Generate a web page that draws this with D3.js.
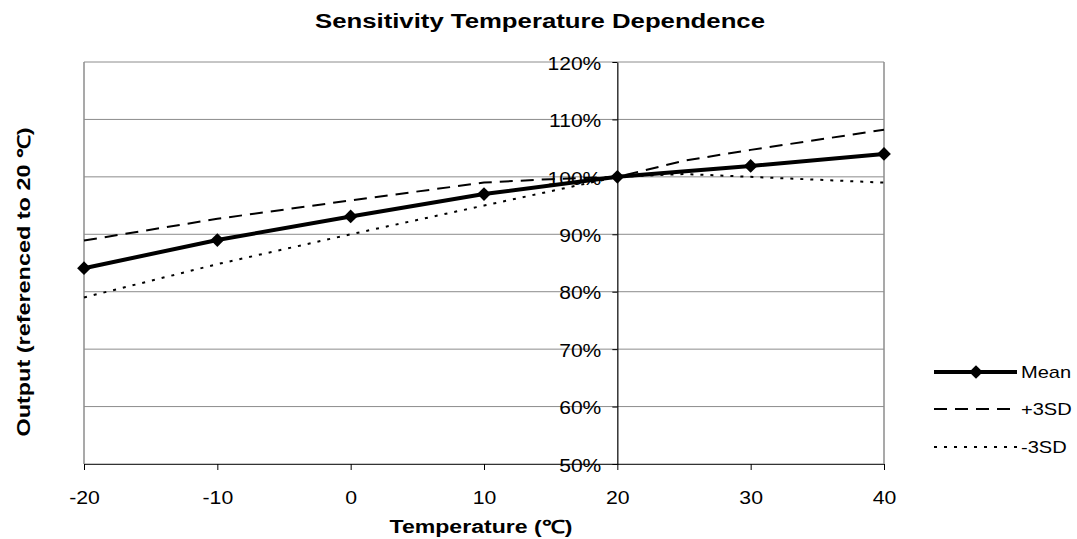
<!DOCTYPE html>
<html>
<head>
<meta charset="utf-8">
<script src="https://cdn.jsdelivr.net/npm/d3@7"></script>
<style>
  body { margin: 0; background: #fff; }
  svg { display: block; font-family: "Liberation Sans", Arial, sans-serif; }
</style>
</head>
<body>
<svg id="chart" width="1077" height="539"></svg>
<script>
// data
const meanTemps = [-20, -10, 0, 10, 20, 30, 40];
const meanVals = [84.1, 89.0, 93.1, 97.0, 100, 101.9, 104.0];
const plusTemps = [-20, -10, 0, 10, 15, 20, 25, 30, 40];
const plusVals = [88.9, 92.7, 95.9, 99.0, 99.6, 100, 102.8, 104.7, 108.2];
const minusTemps = [-20, -10, 0, 10, 20, 25, 30, 40];
const minusVals = [79.0, 84.8, 90.0, 95.0, 100, 100.5, 100.0, 99.0];
const xTicks = [-20, -10, 0, 10, 20, 30, 40];
const yTicks = [50, 60, 70, 80, 90, 100, 110, 120];
const seriesNames = ['Mean', '+3SD', '-3SD'];

const svg = d3.select('#chart');
const plotLeft = 84, plotRight = 884, plotTop = 62, plotBottom = 464;
const fontFamily = '"Liberation Sans", Arial, sans-serif';

const x = d3.scaleLinear().domain([-20, 40]).range([plotLeft, plotRight]);
const y = d3.scaleLinear().domain([50, 120]).range([plotBottom, plotTop]);

// stretch text horizontally, the reference font renders wide
function stretch(sel, k) {
    sel.each(function() {
        let w = this.getComputedTextLength();
        d3.select(this).attr('textLength', w * k).attr('lengthAdjust', 'spacingAndGlyphs');
    });
}

// Gridlines
svg.append('g')
    .selectAll('line')
    .data(yTicks)
    .join('line')
    .attr('x1', plotLeft).attr('x2', plotRight)
    .attr('y1', d => y(d)).attr('y2', d => y(d))
    .attr('stroke', '#8c8c8c')
    .attr('stroke-width', 1);

// plot border sides
svg.append('line').attr('x1', plotLeft).attr('x2', plotLeft).attr('y1', plotTop).attr('y2', plotBottom)
    .attr('stroke', '#8c8c8c').attr('stroke-width', 1.5);
svg.append('line').attr('x1', plotRight).attr('x2', plotRight).attr('y1', plotTop).attr('y2', plotBottom)
    .attr('stroke', '#8c8c8c').attr('stroke-width', 1.5);

// x axis at bottom
const xAxis = svg.append('g')
    .attr('transform', 'translate(0,' + plotBottom + ')')
    .call(d3.axisBottom(x).tickValues(xTicks).tickSize(6).tickSizeOuter(0).tickFormat(d => String(d)));
xAxis.select('.domain').attr('stroke', '#333').attr('stroke-width', 1.2);
xAxis.selectAll('.tick line').attr('stroke', '#000');
xAxis.selectAll('.tick text')
    .attr('y', 40)
    .attr('dy', 0)
    .attr('font-size', 18)
    .attr('font-family', fontFamily)
    .attr('fill', '#000')
    .call(stretch, 1.18);

// y axis crossing at 20
const yAxis = svg.append('g')
    .attr('transform', 'translate(' + x(20) + ',0)')
    .call(d3.axisLeft(y).tickValues(yTicks).tickSize(5).tickSizeOuter(0).tickFormat(d => d + '%'));
yAxis.select('.domain').attr('stroke', '#000').attr('stroke-width', 1.2);
yAxis.selectAll('.tick line').attr('stroke', '#000');
yAxis.selectAll('.tick text')
    .attr('x', -16)
    .attr('dy', '0.4em')
    .attr('font-size', 18)
    .attr('font-family', fontFamily)
    .attr('fill', '#000')
    .call(stretch, 1.17);

// Series
const line = d3.line().x(d => x(d[0])).y(d => y(d[1]));

svg.append('path')
    .datum(d3.zip(plusTemps, plusVals))
    .attr('d', line)
    .attr('fill', 'none')
    .attr('stroke', '#000')
    .attr('stroke-width', 2)
    .attr('stroke-dasharray', '13,8');

svg.append('path')
    .datum(d3.zip(minusTemps, minusVals))
    .attr('d', line)
    .attr('fill', 'none')
    .attr('stroke', '#000')
    .attr('stroke-width', 2)
    .attr('stroke-dasharray', '3,7');

svg.append('path')
    .datum(d3.zip(meanTemps, meanVals))
    .attr('d', line)
    .attr('fill', 'none')
    .attr('stroke', '#000')
    .attr('stroke-width', 4);

const diamond = d3.symbol().type(d3.symbolDiamond2).size(120);
svg.append('g')
    .selectAll('path')
    .data(d3.zip(meanTemps, meanVals))
    .join('path')
    .attr('d', diamond)
    .attr('transform', d => 'translate(' + x(d[0]) + ',' + y(d[1]) + ')')
    .attr('fill', '#000');

// Legend
const legend = svg.append('g');
const legendY = [372, 409, 447];
const legendDash = [null, '13,8', '3,7'];
const legendWidth = [4, 2, 2];
seriesNames.forEach((name, i) => {
    legend.append('line')
        .attr('x1', 934).attr('x2', 1017)
        .attr('y1', legendY[i]).attr('y2', legendY[i])
        .attr('stroke', '#000')
        .attr('stroke-width', legendWidth[i])
        .attr('stroke-dasharray', legendDash[i]);
    if (i === 0) {
        legend.append('path')
            .attr('d', diamond)
            .attr('transform', 'translate(976,' + legendY[i] + ')')
            .attr('fill', '#000');
    }
    legend.append('text')
        .attr('x', 1021)
        .attr('y', legendY[i] + 6)
        .attr('font-size', 17)
        .text(name)
        .call(stretch, 1.18);
});

// Titles
svg.append('text')
    .attr('x', 540).attr('y', 28)
    .attr('text-anchor', 'middle')
    .attr('font-size', 20)
    .attr('font-weight', 'bold')
    .attr('textLength', 450)
    .attr('lengthAdjust', 'spacingAndGlyphs')
    .text('Sensitivity Temperature Dependence');

svg.append('text')
    .attr('x', 481).attr('y', 533)
    .attr('text-anchor', 'middle')
    .attr('font-size', 18)
    .attr('font-weight', 'bold')
    .attr('textLength', 183)
    .attr('lengthAdjust', 'spacingAndGlyphs')
    .text('Temperature (℃)');

svg.append('text')
    .attr('transform', 'translate(30,282) rotate(-90)')
    .attr('text-anchor', 'middle')
    .attr('font-size', 17.5)
    .attr('font-weight', 'bold')
    .attr('textLength', 309)
    .attr('lengthAdjust', 'spacingAndGlyphs')
    .text('Output (referenced to 20 ℃)');
</script>
</body>
</html>
